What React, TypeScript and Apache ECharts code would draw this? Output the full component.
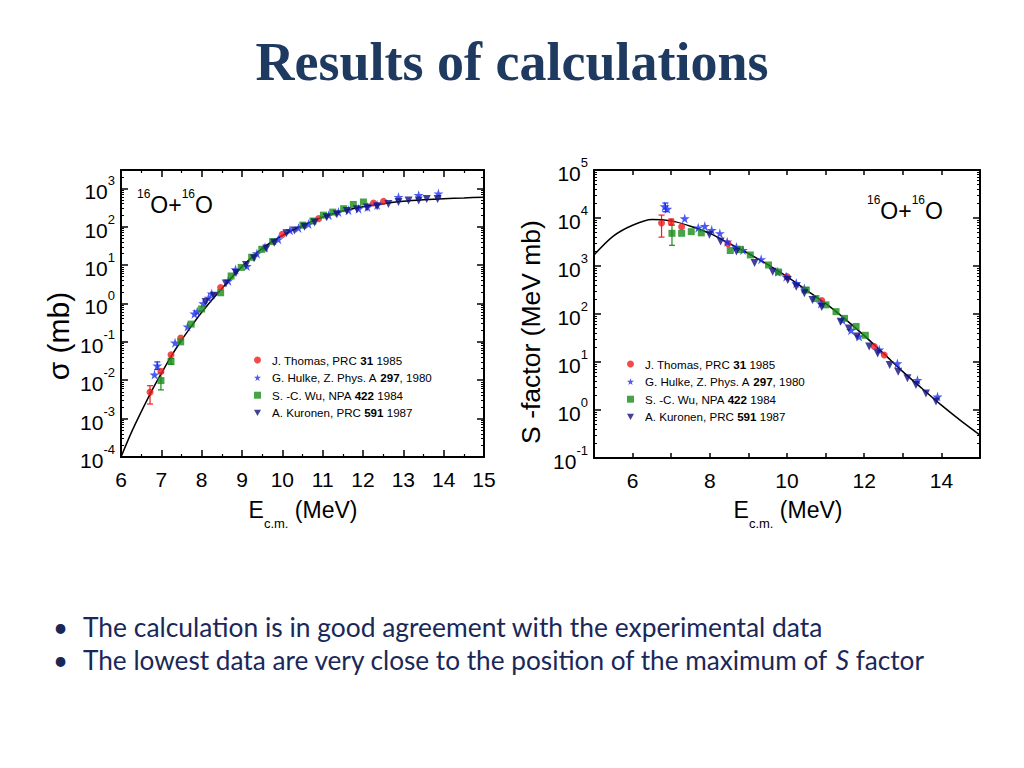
import React, { useEffect, useRef } from "react";
import * as echarts from "echarts";

const FONT = "Liberation Sans, Arial, sans-serif";

// ---------- series names / legend ----------
const seriesNames = [
  "J. Thomas, PRC 31 1985",
  "G. Hulke, Z. Phys. A 297, 1980",
  "S. -C. Wu, NPA 422 1984",
  "A. Kuronen, PRC 591 1987",
];
const legendRich = [
  "J. Thomas, PRC {b|31} 1985",
  "G. Hulke, Z. Phys. A {b|297}, 1980",
  "S. -C. Wu, NPA {b|422} 1984",
  "A. Kuronen, PRC {b|591} 1987",
];
const seriesColors = ["#f01c1c", "#1e2ff0", "#1a8c1a", "#12127e"];
const seriesSymbols = [
  "circle",
  "path://M50,0 L61,35 L98,35 L68,57 L79,91 L50,70 L21,91 L32,57 L2,35 L39,35 Z",
  "rect",
  "path://M0,0 L10,0 L5,9 Z",
];
const seriesSizes = [7, 10, 7, 8];

// ---------- calculated curves ----------
const sigmaCurveE = [6.0, 6.25, 6.5, 6.75, 7.0, 7.25, 7.5, 7.75, 8.0, 8.5, 9.0, 9.5, 10.0, 10.5, 11.0, 11.5, 12.0, 12.5, 13.0, 13.5, 14.0, 14.5, 15.0];
const sigmaCurve = [1.0e-4, 4.2e-4, 1.5e-3, 5.0e-3, 1.5e-2, 4.3e-2, 0.11, 0.26, 0.59, 2.45, 9.1, 26.9, 58.9, 107, 178, 257, 331, 398, 457, 501, 537, 562, 589];

const sCurveE = [5.0, 5.5, 6.0, 6.5, 7.0, 7.5, 8.0, 8.5, 9.0, 9.5, 10.0, 10.5, 11.0, 11.5, 12.0, 12.5, 13.0, 13.5, 14.0, 14.5, 15.0];
const sCurve = [1700, 4200, 7080, 9330, 8710, 6760, 4790, 2950, 1820, 1070, 603, 316, 166, 79, 35.5, 15.1, 6.3, 2.8, 1.26, 0.6, 0.3];

// ---------- experimental cross sections (E, sigma mb) ----------
const thomasSigma = [[6.72, 4.9e-3], [6.99, 0.017], [7.24, 0.046], [7.48, 0.126], [8.47, 2.6], [10.0, 63], [10.9, 162], [12.26, 415], [12.51, 460]];
const hulkeSigma = [[6.83, 0.014], [6.9, 0.024], [7.34, 0.095], [7.65, 0.25], [7.82, 0.54], [7.89, 0.62], [8.04, 1.0], [8.17, 1.4], [8.25, 1.8], [8.66, 3.9], [8.84, 7.7], [9.12, 9.4], [9.37, 20], [9.57, 29], [9.9, 47], [10.19, 81], [10.4, 93], [10.65, 117], [11.15, 200], [11.39, 240], [11.64, 270], [11.89, 295], [12.11, 325], [12.35, 365], [12.88, 590], [13.38, 660], [13.87, 730]];
const wuSigma = [[6.99, 0.0098], [7.24, 0.031], [7.48, 0.1], [7.74, 0.29], [8.0, 0.72], [8.47, 1.9], [8.73, 5.2], [8.98, 8.7], [9.24, 16], [9.49, 25.7], [9.76, 41], [10.51, 110], [10.76, 141], [11.02, 200], [11.25, 240], [11.52, 295], [11.76, 380], [12.01, 440]];
const kuronenSigma = [[8.1, 1.1], [8.3, 1.6], [8.6, 3.3], [8.85, 6.2], [9.1, 10], [9.3, 15], [9.6, 27], [9.8, 38], [10.1, 68], [10.3, 80], [10.55, 100], [10.8, 128], [11.1, 175], [11.35, 212], [11.6, 255], [11.85, 285], [12.1, 315], [12.35, 340], [12.63, 390], [12.88, 440], [13.13, 480], [13.38, 480], [13.58, 530], [13.85, 530]];

// ---------- experimental S-factors (E, S MeV mb) ----------
const thomasS = [[6.75, 7900], [7.0, 8300], [7.27, 6600], [8.47, 2900], [10.0, 600], [10.9, 190], [12.26, 21], [12.52, 14]];
const hulkeS = [[6.83, 17400], [6.9, 15500], [7.35, 9800], [7.7, 6300], [7.87, 6800], [8.05, 5600], [8.26, 4800], [8.45, 3200], [8.69, 2500], [8.86, 2150], [9.33, 1380], [9.76, 760], [9.98, 600], [10.24, 440], [10.45, 340], [10.88, 166], [11.44, 75], [11.66, 46], [11.87, 34], [12.39, 18], [12.86, 9.3], [13.38, 4.2], [13.9, 1.9]];
const wuS = [[7.02, 4800], [7.27, 4800], [7.52, 5200], [7.78, 4900], [8.53, 2100], [8.79, 2200], [9.05, 1700], [9.52, 1050], [9.78, 750], [10.5, 316], [10.75, 210], [11.01, 155], [11.27, 112], [11.49, 81], [11.79, 55], [12.03, 36]];
const kuronenS = [[7.99, 4500], [8.28, 3250], [8.69, 2000], [9.16, 1150], [9.63, 760], [10.02, 510], [10.24, 370], [10.45, 270], [10.66, 195], [10.9, 140], [11.39, 69], [11.6, 50], [11.81, 34], [12.13, 21], [12.35, 15], [12.66, 8.7], [12.88, 6.3], [13.12, 4.6], [13.34, 3.3], [13.6, 2.2], [13.86, 1.5]];

// ---------- error bars (E, low, high, series index) ----------
const errSigma = [[6.72, 2.4e-3, 7.2e-3, 0], [6.99, 0.0056, 0.0155, 2], [6.9, 0.019, 0.03, 1], [7.24, 0.026, 0.037, 2]];
const errS = [[6.75, 4000, 11500, 0], [7.02, 2700, 7100, 2], [6.85, 13500, 20500, 1], [7.0, 7200, 9500, 0]];

const sigmaSets = [thomasSigma, hulkeSigma, wuSigma, kuronenSigma];
const sSets = [thomasS, hulkeS, wuS, kuronenS];

const xTicksLeft = { min: 6, max: 15, interval: 1 };
const xTicksRight = { min: 5, max: 15, interval: 1 };
const yLeft = { min: 1e-4, max: 3000 };
const yRight = { min: 0.1, max: 1e5 };

function supLabel(v: number) {
  const e = Math.round(Math.log10(v));
  return `{b|10}{s|${e}}`;
}

const supRich = {
  b: { fontSize: 21, fontFamily: FONT, color: "#000", padding: [7, 0, 0, 0] },
  s: { fontSize: 13, fontFamily: FONT, color: "#000", verticalAlign: "top" },
};

function frameAxis(extra: any) {
  return {
    type: "value",
    axisLine: { show: true, onZero: false, lineStyle: { color: "#000", width: 2 } },
    axisTick: { show: true, inside: true, length: 7, lineStyle: { color: "#000", width: 1.5 } },
    splitLine: { show: false },
    ...extra,
  };
}

function errRender(params: any, api: any) {
  const x = api.value(0);
  const lo = api.value(1);
  const hi = api.value(2);
  const c = seriesColors[api.value(3)];
  const p1 = api.coord([x, lo]);
  const p2 = api.coord([x, hi]);
  const w = 3;
  const st = { stroke: c, lineWidth: 1.2 };
  return {
    type: "group",
    children: [
      { type: "line", shape: { x1: p1[0], y1: p1[1], x2: p2[0], y2: p2[1] }, style: st },
      { type: "line", shape: { x1: p1[0] - w, y1: p1[1], x2: p1[0] + w, y2: p1[1] }, style: st },
      { type: "line", shape: { x1: p2[0] - w, y1: p2[1], x2: p2[0] + w, y2: p2[1] }, style: st },
    ],
  };
}

const BULLET_FONT = "Lato, sans-serif";
const BULLET_COLOR = "#1a2858";
const LEG_FS = 11.6;

export default function App() {
  const ref = useRef<HTMLDivElement>(null);
  useEffect(() => {
    if (!ref.current) return;
    const chart = echarts.init(ref.current, undefined, { renderer: "svg" });

    const scatterSeries: any[] = [];
    for (let i = 0; i < 4; i++) {
      scatterSeries.push({
        name: seriesNames[i],
        type: "scatter",
        xAxisIndex: 0,
        yAxisIndex: 0,
        data: sigmaSets[i],
        symbol: seriesSymbols[i],
        symbolSize: seriesSizes[i],
        itemStyle: { color: seriesColors[i] },
        z: 3,
      });
      scatterSeries.push({
        name: seriesNames[i],
        type: "scatter",
        xAxisIndex: 2,
        yAxisIndex: 2,
        data: sSets[i],
        symbol: seriesSymbols[i],
        symbolSize: seriesSizes[i],
        itemStyle: { color: seriesColors[i] },
        z: 3,
      });
    }

    const legendCommon = {
      orient: "vertical",
      padding: 0,
      itemWidth: 7,
      itemHeight: 7,
      itemGap: 3.6,
      selectedMode: false,
      data: seriesNames,
      formatter: (n: string) => legendRich[seriesNames.indexOf(n)],
      textStyle: {
        fontSize: LEG_FS,
        fontFamily: FONT,
        color: "#000",
        lineHeight: 14,
        rich: { b: { fontSize: LEG_FS, fontFamily: FONT, fontWeight: "bold", color: "#000", lineHeight: 14 } },
      },
    };

    const annot = (x: number, y: number) => ({
      type: "text", x, y,
      style: {
        text: "{s|16}{b|O+}{s|16}{b|O}", verticalAlign: "middle",
        rich: {
          b: { fontSize: 23, fontFamily: FONT, fill: "#000", padding: [5, 0, 0, 0] },
          s: { fontSize: 12, fontFamily: FONT, fill: "#000", verticalAlign: "top" },
        },
      },
    });

    const xName = (x: number) => ({
      type: "text", x, y: 498,
      style: {
        text: "{a|E}{sub|c.m.}{a| (MeV)}", align: "center", verticalAlign: "top",
        rich: {
          a: { fontSize: 23, fontFamily: FONT, fill: "#000", lineHeight: 24, verticalAlign: "top" },
          sub: { fontSize: 13, fontFamily: FONT, fill: "#000", padding: [19, 0, 0, 0], verticalAlign: "top" },
        },
      },
    });

    const option: any = {
      animation: false,
      backgroundColor: "#fff",
      grid: [
        { left: 121, top: 170, width: 363, height: 287 },
        { left: 594, top: 170, width: 386, height: 288 },
      ],
      xAxis: [
        frameAxis({
          gridIndex: 0, position: "bottom", ...xTicksLeft,
          minorTick: { show: true, splitNumber: 2, length: 3, lineStyle: { color: "#000", width: 1.2 } },
          axisLabel: { fontSize: 21, fontFamily: FONT, color: "#000", margin: 12 },
        }),
        frameAxis({
          gridIndex: 0, position: "top", ...xTicksLeft,
          minorTick: { show: true, splitNumber: 2, length: 3, lineStyle: { color: "#000", width: 1.2 } },
          axisLabel: { show: false },
        }),
        frameAxis({
          gridIndex: 1, position: "bottom", ...xTicksRight,
          axisTick: { show: true, inside: true, length: 5, lineStyle: { color: "#000", width: 1.5 } },
          axisLabel: {
            fontSize: 21, fontFamily: FONT, color: "#000", margin: 12,
            formatter: (v: number) => (Math.round(v) % 2 === 0 ? String(v) : ""),
          },
        }),
        frameAxis({
          gridIndex: 1, position: "top", ...xTicksRight,
          axisTick: { show: true, inside: true, length: 5, lineStyle: { color: "#000", width: 1.5 } },
          axisLabel: { show: false },
        }),
      ],
      yAxis: [
        frameAxis({
          type: "log", gridIndex: 0, position: "left", ...yLeft,
          minorTick: { show: true, splitNumber: 9, length: 3, lineStyle: { color: "#000", width: 1 } },
          axisLabel: { showMaxLabel: false, margin: 6, formatter: supLabel, rich: supRich },
        }),
        frameAxis({
          type: "log", gridIndex: 0, position: "right", ...yLeft,
          minorTick: { show: true, splitNumber: 9, length: 3, lineStyle: { color: "#000", width: 1 } },
          axisLabel: { show: false },
        }),
        frameAxis({
          type: "log", gridIndex: 1, position: "left", ...yRight,
          minorTick: { show: true, splitNumber: 9, length: 3, lineStyle: { color: "#000", width: 1 } },
          axisLabel: { margin: 6, formatter: supLabel, rich: supRich },
        }),
        frameAxis({
          type: "log", gridIndex: 1, position: "right", ...yRight,
          minorTick: { show: true, splitNumber: 9, length: 3, lineStyle: { color: "#000", width: 1 } },
          axisLabel: { show: false },
        }),
      ],
      legend: [
        { ...legendCommon, left: 254, top: 353, textStyle: { ...legendCommon.textStyle, padding: [0, 0, 0, 6] } },
        { ...legendCommon, left: 627, top: 357, textStyle: { ...legendCommon.textStyle, padding: [0, 0, 0, 6] } },
      ],
      series: [
        {
          type: "line", xAxisIndex: 0, yAxisIndex: 0, silent: true,
          data: sigmaCurveE.map((e, i) => [e, sigmaCurve[i]]),
          showSymbol: false, symbol: "none", smooth: 0.3,
          lineStyle: { color: "#000", width: 1.5 }, z: 2,
        },
        {
          type: "line", xAxisIndex: 2, yAxisIndex: 2, silent: true,
          data: sCurveE.map((e, i) => [e, sCurve[i]]),
          showSymbol: false, symbol: "none", smooth: 0.3,
          lineStyle: { color: "#000", width: 1.5 }, z: 2,
        },
        {
          type: "custom", xAxisIndex: 0, yAxisIndex: 0, silent: true,
          data: errSigma, renderItem: errRender, encode: { x: 0, y: [1, 2] }, z: 2,
        },
        {
          type: "custom", xAxisIndex: 2, yAxisIndex: 2, silent: true,
          data: errS, renderItem: errRender, encode: { x: 0, y: [1, 2] }, z: 2,
        },
        ...scatterSeries,
      ],
      graphic: [
        {
          type: "text", x: 512, y: 62,
          style: {
            text: "Results of calculations", align: "center", verticalAlign: "middle",
            font: "bold 54px 'Liberation Serif', 'Times New Roman', serif", fill: "#1f3a60",
          },
        },
        annot(137, 202),
        annot(867, 208),
        {
          type: "text", x: 58, y: 336, rotation: Math.PI / 2,
          style: { text: "σ (mb)", align: "center", verticalAlign: "middle", fontSize: 30, fontFamily: FONT, fill: "#000" },
        },
        {
          type: "text", x: 531, y: 332, rotation: Math.PI / 2,
          style: { text: "S -factor (MeV mb)", align: "center", verticalAlign: "middle", fontSize: 26.5, fontFamily: FONT, fill: "#000" },
        },
        xName(303),
        xName(788),
        {
          type: "text", x: 53, y: 627,
          style: { text: "•", verticalAlign: "middle", fontSize: 26, fontFamily: BULLET_FONT, fill: BULLET_COLOR },
        },
        {
          type: "text", x: 83, y: 627,
          style: {
            text: "The calculation is in good agreement with the experimental data",
            verticalAlign: "middle", fontSize: 26.4, fontFamily: BULLET_FONT, fill: BULLET_COLOR,
          },
        },
        {
          type: "text", x: 53, y: 660,
          style: { text: "•", verticalAlign: "middle", fontSize: 26, fontFamily: BULLET_FONT, fill: BULLET_COLOR },
        },
        {
          type: "text", x: 83, y: 660,
          style: {
            text: "The lowest data are very close to the position of the maximum of {i|S} factor",
            verticalAlign: "middle", fontSize: 26.2, fontFamily: BULLET_FONT, fill: BULLET_COLOR,
            rich: { i: { fontSize: 26.2, fontFamily: BULLET_FONT, fontStyle: "italic", fill: BULLET_COLOR } },
          },
        },
      ],
    };

    chart.setOption(option);
    return () => chart.dispose();
  }, []);

  return (
    <div
      ref={ref}
      style={{ position: "absolute", left: 0, top: 0, width: 1024, height: 768, background: "#fff" }}
    />
  );
}
